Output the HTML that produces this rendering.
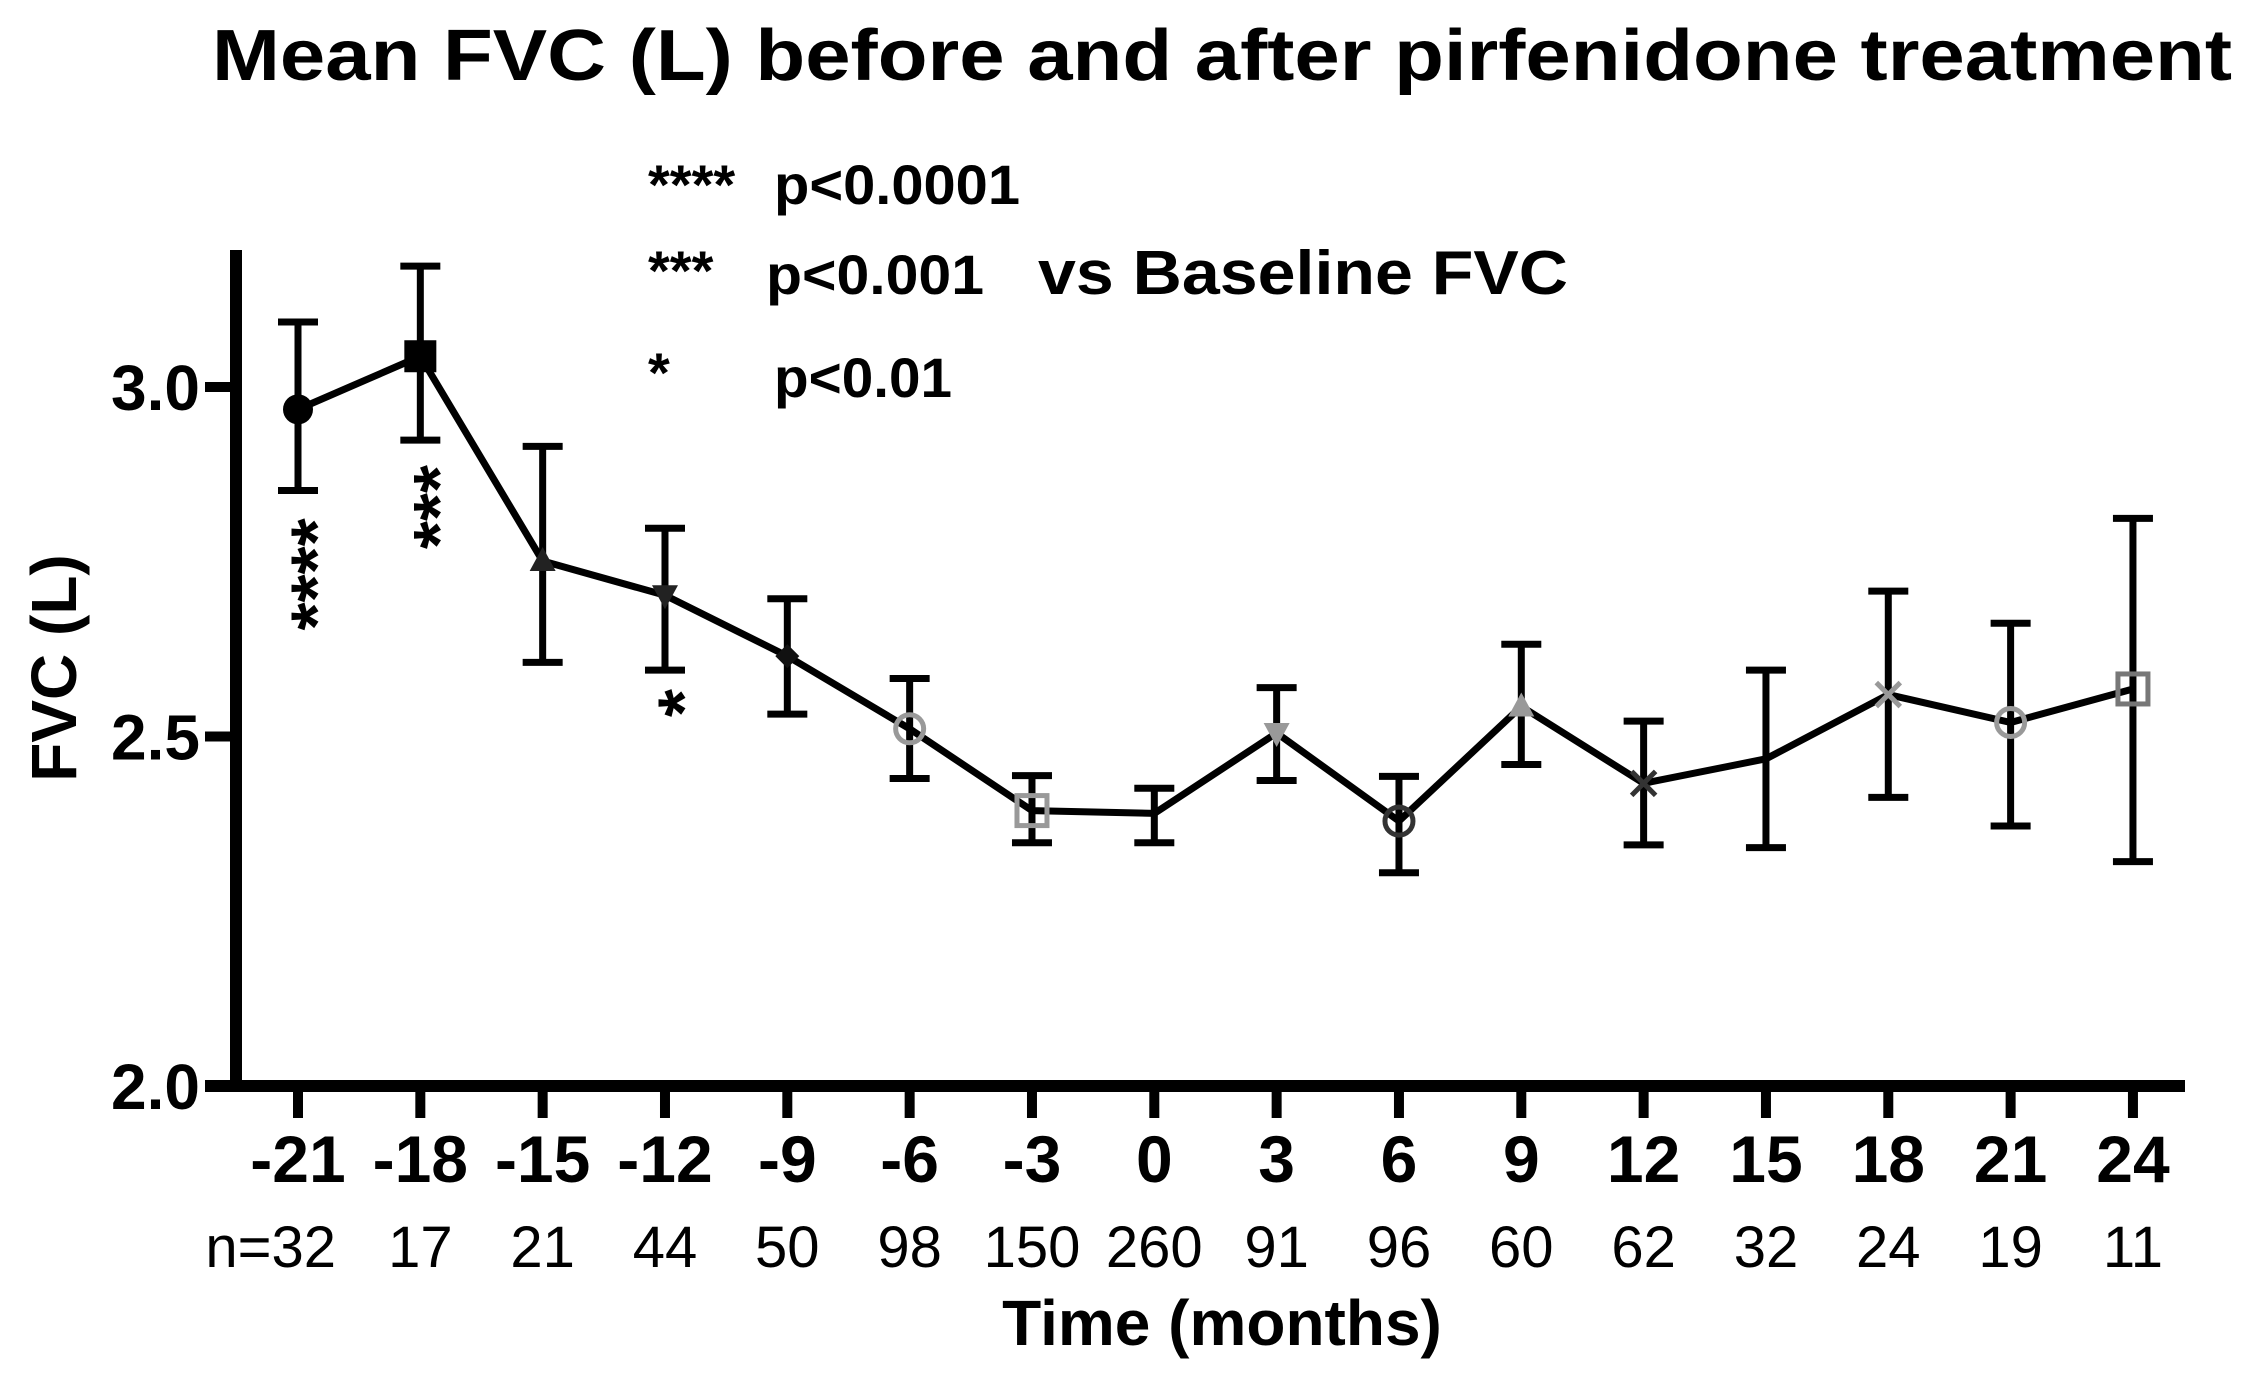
<!DOCTYPE html>
<html><head><meta charset="utf-8">
<style>
html,body{margin:0;padding:0;background:#fff;}
svg{display:block;font-family:"Liberation Sans",Arial,sans-serif;}
</style></head>
<body>
<svg id="chart" width="2256" height="1382" viewBox="0 0 2256 1382" xmlns="http://www.w3.org/2000/svg">
<text x="1222" y="80" font-size="72" font-weight="bold" text-anchor="middle" textLength="2020" lengthAdjust="spacingAndGlyphs">Mean FVC (L) before and after pirfenidone treatment</text>
<g>
<text x="648" y="204" font-size="56" font-weight="bold">****</text>
<text x="774" y="204" font-size="56" font-weight="bold" textLength="246" lengthAdjust="spacingAndGlyphs">p&lt;0.0001</text>
<text x="648" y="290" font-size="56" font-weight="bold">***</text>
<text x="766" y="294" font-size="56" font-weight="bold" textLength="218" lengthAdjust="spacingAndGlyphs">p&lt;0.001</text>
<text x="1038" y="294" font-size="62" font-weight="bold" textLength="530" lengthAdjust="spacingAndGlyphs">vs Baseline FVC</text>
<text x="648" y="392" font-size="56" font-weight="bold">*</text>
<text x="774" y="397" font-size="56" font-weight="bold" textLength="178" lengthAdjust="spacingAndGlyphs">p&lt;0.01</text>
</g>
<text transform="translate(76,668) rotate(-90)" font-size="64" font-weight="bold" text-anchor="middle">FVC (L)</text>
<text x="1222" y="1345" font-size="64" font-weight="bold" text-anchor="middle">Time (months)</text>
<g id="axes"></g>
<g id="marks"></g>
</svg>
<script>
const months = [-21,-18,-15,-12,-9,-6,-3,0,3,6,9,12,15,18,21,24];
const nLabels = ["n=32","17","21","44","50","98","150","260","91","96","60","62","32","24","19","11"];
const fvcMean = [2.968,3.044,2.751,2.702,2.615,2.511,2.394,2.39,2.505,2.379,2.543,2.433,2.468,2.56,2.52,2.568];
const fvcUpper = [3.093,3.173,2.915,2.798,2.697,2.583,2.444,2.426,2.57,2.443,2.632,2.522,2.595,2.708,2.662,2.812];
const fvcLower = [2.852,2.924,2.606,2.595,2.532,2.44,2.348,2.348,2.437,2.305,2.46,2.345,2.341,2.413,2.372,2.321];
const yTicks = [2.0,2.5,3.0];
const yTickLabels = ["2.0","2.5","3.0"];
const markerTypes = ["circle","square","tri","tridown","diamond","ocircle","osquare","none","tridown","ocircle","tri","x","none","x","ocircle","osquare"];
const markerColors = ["#000","#000","#222","#222","#111","#999","#999","#000","#999","#333","#999","#333","#000","#999","#999","#777"];
const sigStars = ["****","***","","*","","","","","","","","","","","",""];

const NS="http://www.w3.org/2000/svg";
const X = m => 298 + (m + 21) / 3 * 122.33;
const Y = v => 1086 - (v - 2.0) * 699;
const axes=document.getElementById('axes'), marks=document.getElementById('marks');
function mk(tag, attrs, parent){const e=document.createElementNS(NS,tag);for(const k in attrs)e.setAttribute(k,attrs[k]);parent.appendChild(e);return e;}

let e;
e=mk('line',{x1:236,y1:250,x2:236,y2:1092,stroke:'#000','stroke-width':12},axes);


e=mk('line',{x1:205,y1:1086,x2:2185,y2:1086,stroke:'#000','stroke-width':12},axes);


yTicks.forEach((t,i)=>{
  e=mk('line',{x1:205,y1:Y(t),x2:236,y2:Y(t),stroke:'#000','stroke-width':10},axes);
  
  
  e=mk('text',{x:200,y:Y(t)+23,'font-size':64,'font-weight':'bold','text-anchor':'end'},axes);
  e.textContent=yTickLabels[i];
  
  
});
months.forEach((m,i)=>{
  e=mk('line',{x1:X(m),y1:1086,x2:X(m),y2:1118,stroke:'#000','stroke-width':10},axes);
  
  
  e=mk('text',{x:X(m),y:1182,'font-size':66,'font-weight':'bold','text-anchor':'middle'},axes);
  e.textContent=String(m);
  
  
  const nl=nLabels[i];
  e=mk('text',{x:i===0?X(m)+38:X(m),y:1267,'font-size':58,'text-anchor':i===0?'end':'middle'},axes);
  e.textContent=nl;
  
  
});
months.forEach((m,i)=>{
  const x=X(m);
  e=mk('path',{d:`M${x},${Y(fvcUpper[i])}V${Y(fvcLower[i])}M${x-20},${Y(fvcUpper[i])}H${x+20}M${x-20},${Y(fvcLower[i])}H${x+20}`,stroke:'#000','stroke-width':7,fill:'none'},marks);
  
  
});
e=mk('polyline',{points:months.map((m,i)=>X(m)+','+Y(fvcMean[i])).join(' '),fill:'none',stroke:'#000','stroke-width':7,'stroke-linejoin':'round'},marks);


months.forEach((m,i)=>{
  const x=X(m),y=Y(fvcMean[i]),c=markerColors[i],t=markerTypes[i];
  let el=null;
  if(t==='circle') el=mk('circle',{cx:x,cy:y,r:15,fill:c},marks);
  else if(t==='square') el=mk('rect',{x:x-16,y:y-16,width:32,height:32,fill:c},marks);
  else if(t==='tri') el=mk('path',{d:`M${x},${y-14}L${x+13},${y+10}L${x-13},${y+10}Z`,fill:c},marks);
  else if(t==='tridown') el=mk('path',{d:`M${x},${y+14}L${x+13},${y-10}L${x-13},${y-10}Z`,fill:c},marks);
  else if(t==='diamond') el=mk('path',{d:`M${x},${y-12}L${x+12},${y}L${x},${y+12}L${x-12},${y}Z`,fill:c},marks);
  else if(t==='ocircle') el=mk('circle',{cx:x,cy:y,r:14,fill:'none',stroke:c,'stroke-width':5},marks);
  else if(t==='osquare') el=mk('rect',{x:x-15,y:y-15,width:30,height:30,fill:'none',stroke:c,'stroke-width':5},marks);
  else if(t==='x') el=mk('path',{d:`M${x-12},${y-12}L${x+12},${y+12}M${x+12},${y-12}L${x-12},${y+12}`,stroke:c,'stroke-width':5},marks);
  if(el){
    
    
  }
  if(sigStars[i]){
    const yb=Y(fvcLower[i])+16;
    const len=sigStars[i].length*34;
    e=mk('text',{transform:`translate(${x+4},${yb+len/2}) rotate(-90)`,'font-size':72,'font-weight':'bold','text-anchor':'middle',dy:'0.55em'},marks);
    e.textContent=sigStars[i];
    
    
  }
});
</script>
</body></html>
